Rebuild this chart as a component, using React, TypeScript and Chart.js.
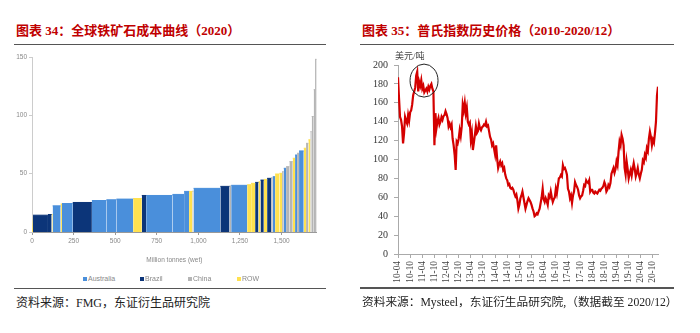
import React, { useEffect, useRef } from 'react';
import { Chart, registerables } from 'chart.js';
Chart.register(...registerables);

// ---------- Left chart: global iron ore cost curve (2020) ----------
const regionNames = ['Australia', 'Brazil', 'China', 'ROW'];
const regionColors = ['#4a8fdb', '#0c3579', '#b5b5b5', '#ffe14f'];

const mineRegions = ['ROW','Brazil','Brazil','ROW','Australia','ROW','Australia','Brazil','Australia','Australia','Australia','ROW','Brazil','Australia','Australia','Australia','ROW','China','Australia','Brazil','China','Australia','ROW','ROW','Brazil','ROW','Brazil','ROW','Brazil','China','Australia','ROW','ROW','China','Australia','China','China','ROW','Australia','China','Australia','ROW','China','ROW','China','China','China','China'];
const mineCapacities = [6,90,22,6,48,8,65,115,87,60,101,52,26,158,70,30,20,7,161,55,10,96,24,24,20,12,20,20,24,10,14,26,16,10,14,20,20,14,12,12,28,14,14,12,8,12,8,10];
const mineCosts = [14,14.4,15,15,22.4,24,24.4,25.3,27,27.6,28.2,28.7,31.3,31.3,32.2,34.8,34.8,35,37.4,39.1,39.5,40,40.5,41.7,42.5,43,44.5,45.1,46,46.5,47.4,49.7,50.3,51.7,54.6,56,60.3,63.2,66,67.5,69.5,71.8,76,79,86,99,122,148];
const costAxisTicks = [0, 250, 500, 750, 1000, 1250, 1500];

// ---------- Right chart: Platts index history (two readings per month, from 2010-04) ----------
const priceStart = '2010-04';
const p2010 = [187,165, 145,142, 135,117, 128,145, 141,138, 147,141, 150,152, 158,168, 172,176];
const p2011 = [189,193, 172,182, 178,184, 175,178, 171,173, 175,172, 177,174, 178,180, 175,172, 115,149, 133,140, 144,137];
const p2012 = [140,145, 142,146, 147,151, 148,144, 135,138, 134,137, 122,115, 105,89, 119,117, 122,131, 125,135, 158,152];
const p2013 = [160,149, 155,140, 137,139, 121,128, 110,118, 126,135, 128,130, 138,133, 131,134, 135,137, 136,140, 135,136];
const p2014 = [130,124, 121,115, 117,111, 105,115, 101,91, 95,98, 94,96, 89,91, 84,80, 78,73, 74,70, 69,70];
const p2015 = [68,64, 61,63, 57,48, 52,59, 62,66, 60,54, 48,52, 56,59, 57,55, 52,48, 45,40, 41,43];
const p2016 = [42,45, 48,54, 60,69, 58,55, 59,56, 52,62, 60,66, 60,55, 58,60, 69,64, 72,80, 81,83.5];
const p2017 = [82,94, 90,91, 88,84, 69,66, 59,62, 54,62, 66,76, 73,71, 68,62, 59,61, 62,67, 73,72];
const p2018 = [78,76, 75,78, 66,68, 68,65, 64,66, 65,64, 66,68, 67,69, 70,72, 76,73, 66,68, 73,71];
const p2019 = [75,85, 88,91, 86,90, 98,94, 108,119, 115,126, 122,115, 91,84, 98,90, 80,85, 89,83, 90,96];
const p2020 = [90,82, 86,91, 84,80, 85,89, 99,97, 105,102, 112,109, 122,129.5, 124,115, 121,118, 128,140, 168,177];
const priceValues = [...p2010, ...p2011, ...p2012, ...p2013, ...p2014, ...p2015, ...p2016, ...p2017, ...p2018, ...p2019, ...p2020];
const xTickLabels = ['10-04','10-10','11-04','11-10','12-04','12-10','13-04','13-10','14-04','14-10','15-04','15-10','16-04','16-10','17-04','17-10','18-04','18-10','19-04','19-10','20-04','20-10'];
const circleDate = '2011-04-27';
const circleValue = 183.5;

const monthOffset = (s: string) => {
  const [y, m, d = 1] = s.split('-').map(Number);
  return (y - 2010) * 12 + (m - 4) + (d - 1) / 30;
};

const serif = '"Liberation Serif", "Noto Sans CJK SC", serif';

export default function App() {
  const leftRef = useRef<HTMLCanvasElement>(null);
  const rightRef = useRef<HTMLCanvasElement>(null);

  useEffect(() => {
    let cum = 0;
    const datasets = mineCosts.map((c, i) => {
      const x0 = cum;
      cum += mineCapacities[i];
      const col = regionColors[regionNames.indexOf(mineRegions[i])];
      return {
        label: mineRegions[i],
        data: [{ x: x0, y: c }, { x: cum, y: c }],
        fill: 'origin',
        backgroundColor: col,
        borderColor: col,
        borderWidth: 1,
        pointRadius: 0,
        tension: 0,
      };
    });
    const total = cum;
    const tickFont = { family: '"Liberation Sans", Arial, sans-serif', size: 6.5 };

    const left = new Chart(leftRef.current!, {
      type: 'line',
      data: { datasets: datasets as any },
      options: {
        animation: false,
        responsive: false,
        layout: { padding: { top: 9, right: 23.3, left: 0, bottom: 0 } },
        plugins: { legend: { display: false }, tooltip: { enabled: false } },
        scales: {
          x: {
            type: 'linear',
            min: 0,
            max: total,
            grid: { drawOnChartArea: false, tickLength: 3, color: '#999' },
            border: { color: '#999' },
            afterBuildTicks: (s: any) => { s.ticks = costAxisTicks.map((v) => ({ value: v })); },
            ticks: {
              maxRotation: 0,
              padding: 2,
              color: '#888',
              font: tickFont,
              callback: (v: any) => Number(v).toLocaleString('en-US'),
            },
            title: { display: true, text: 'Million tonnes (wet)', color: '#888', font: tickFont, padding: { top: 4, bottom: 4 } },
            afterFit: (s: any) => { s.height = 36; },
          },
          y: {
            min: 0,
            max: 150,
            grid: { drawOnChartArea: false, tickLength: 3, color: '#ccc' },
            border: { color: '#ccc' },
            ticks: { stepSize: 50, padding: 2, color: '#888', font: tickFont },
            afterFit: (s: any) => { s.width = 32; },
          },
        },
      } as any,
    });

    const start = monthOffset(priceStart);
    const pricePoints = priceValues.map((v, i) => ({ x: start + i * 0.5, y: v }));
    const circlePlugin = {
      id: 'circleNote',
      afterDatasetsDraw(chart: any) {
        const ctx = chart.ctx;
        const cx = chart.scales.x.getPixelForValue(monthOffset(circleDate));
        const cy = chart.scales.y.getPixelForValue(circleValue);
        ctx.save();
        ctx.beginPath();
        ctx.ellipse(cx, cy, 14, 16.5, 0, 0, Math.PI * 2);
        ctx.strokeStyle = '#222';
        ctx.lineWidth = 1;
        ctx.stroke();
        ctx.restore();
      },
    };

    const right = new Chart(rightRef.current!, {
      type: 'line',
      data: {
        datasets: [{
          label: '普氏指数',
          data: pricePoints,
          borderColor: '#d40000',
          borderWidth: 2.2,
          pointRadius: 0,
          tension: 0,
          fill: false,
        }],
      },
      options: {
        animation: false,
        responsive: false,
        layout: { padding: { top: 17, right: 32, left: 0, bottom: 0 } },
        plugins: { legend: { display: false }, tooltip: { enabled: false } },
        scales: {
          x: {
            type: 'linear',
            min: 0,
            max: 128.5,
            grid: { drawOnChartArea: false, tickLength: 4, color: '#aaa' },
            border: { color: '#aaa' },
            afterBuildTicks: (s: any) => { s.ticks = xTickLabels.map((_, i) => ({ value: i * 6 })); },
            ticks: {
              autoSkip: false,
              minRotation: 90,
              maxRotation: 90,
              padding: 3,
              color: '#444',
              font: { family: serif, size: 9.3 },
              callback: (v: any) => xTickLabels[Math.round(Number(v) / 6)] ?? '',
            },
            afterFit: (s: any) => { s.height = 41; },
          },
          y: {
            min: 0,
            max: 200,
            grid: { drawOnChartArea: false, tickLength: 4, color: '#aaa' },
            border: { color: '#aaa' },
            ticks: { stepSize: 20, padding: 6, color: '#333', font: { family: serif, size: 10 } },
            afterFit: (s: any) => { s.width = 48; },
          },
        },
      } as any,
      plugins: [circlePlugin],
    });

    return () => { left.destroy(); right.destroy(); };
  }, []);

  const abs = (l: number, t: number): React.CSSProperties => ({ position: 'absolute', left: l, top: t, whiteSpace: 'nowrap' });
  const titleStyle: React.CSSProperties = { fontFamily: serif, fontWeight: 700, fontSize: 13, lineHeight: '16px', color: '#c00000' };
  const sourceStyle: React.CSSProperties = { fontFamily: serif, fontSize: 12, lineHeight: '14px', color: '#222' };
  const ruleStyle = (l: number, t: number, w: number): React.CSSProperties => ({ position: 'absolute', left: l, top: t, width: w, height: 1.5, background: '#555' });
  const legendX = [83, 140, 188, 237];

  return (
    <div style={{ position: 'absolute', left: 0, top: 0, width: 700, height: 333, background: '#fff', overflow: 'hidden' }}>
      <div style={{ ...abs(16, 23), ...titleStyle }}>图表 34：全球铁矿石成本曲线（2020）</div>
      <div style={{ ...abs(362, 23), ...titleStyle }}>图表 35：普氏指数历史价格（2010-2020/12）</div>
      <div style={ruleStyle(14, 43.5, 312)} />
      <div style={ruleStyle(360, 43.5, 314)} />
      <canvas ref={leftRef} width={340} height={220} style={{ position: 'absolute', left: 0, top: 48 }} />
      <canvas ref={rightRef} width={340} height={247} style={{ position: 'absolute', left: 350, top: 48 }} />
      <div style={{ ...abs(395, 51), fontFamily: serif, fontSize: 9, lineHeight: '11px', color: '#444' }}>美元/吨</div>
      {regionNames.map((n, i) => (
        <div key={n} style={{ ...abs(legendX[i], 275), fontFamily: '"Liberation Sans", Arial, sans-serif', fontSize: 7, lineHeight: '8px', color: '#888', display: 'flex', alignItems: 'center' }}>
          <span style={{ display: 'inline-block', width: 4, height: 4, background: regionColors[i], marginRight: 1 }} />
          {n}
        </div>
      ))}
      <div style={ruleStyle(14, 287.5, 312)} />
      <div style={ruleStyle(360, 287, 314)} />
      <div style={{ ...abs(16, 296), ...sourceStyle }}>资料来源：FMG，东证衍生品研究院</div>
      <div style={{ ...abs(362, 296), ...sourceStyle, fontSize: 11.7 }}>资料来源：Mysteel，东证衍生品研究院,（数据截至 2020/12）</div>
    </div>
  );
}
